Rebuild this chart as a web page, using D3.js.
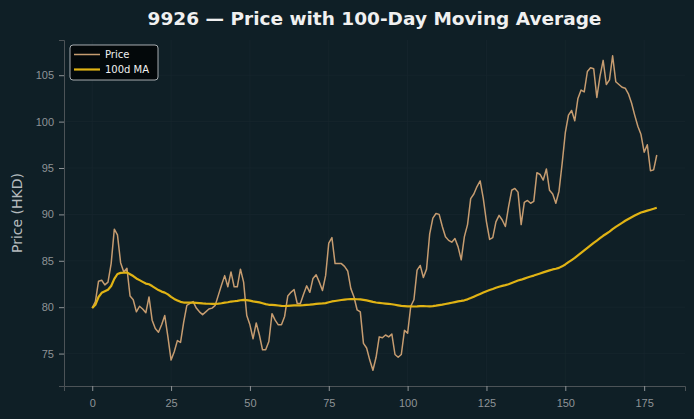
<!DOCTYPE html>
<html>
<head>
<meta charset="utf-8">
<script src="https://cdn.jsdelivr.net/npm/d3@7"></script>
<style>
  html, body { margin: 0; padding: 0; background: #0f1f26; }
  svg { display: block; font-family: "DejaVu Sans", sans-serif; }
</style>
</head>
<body>
<svg id="chart" width="694" height="419"></svg>
<script>
// closing prices, day 0..179
const price = [
  79.9, 80.6, 82.8, 82.9, 82.4, 82.7, 84.7, 88.4, 87.8, 84.8,
  83.8, 84.2, 81.2, 80.8, 79.5, 80.1, 79.8, 79.4, 81.1, 78.6,
  77.7, 77.3, 78.1, 79.1, 76.8, 74.3, 75.2, 76.4, 76.2, 78.4,
  80.2, 80.4, 80.6, 79.9, 79.5, 79.2, 79.5, 79.8, 79.9, 80.2,
  81.3, 82.4, 83.4, 82.2, 83.8, 82.2, 82.2, 84.1, 82.7, 79.1,
  78.1, 76.6, 78.3, 77.0, 75.4, 75.4, 76.3, 79.3, 78.6, 78.1,
  78.1, 79.0, 81.2, 81.6, 81.9, 80.4, 80.4, 81.4, 82.3, 81.6,
  83.1, 83.5, 82.7, 81.8, 83.4, 86.9, 87.5, 84.7, 84.7, 84.7,
  84.4, 83.9, 82.0, 81.1, 79.7, 79.5, 76.1, 75.6, 74.3, 73.2,
  74.6, 76.8, 76.7, 77.0, 76.8, 77.1, 74.9, 74.6, 74.9, 77.5,
  77.2, 80.1, 80.8, 84.0, 84.5, 83.2, 84.1, 87.9, 89.6, 90.1,
  90.0, 88.7, 87.6, 87.2, 87.0, 87.4, 86.5, 85.1, 87.6, 88.9,
  91.7, 92.2, 93.0, 93.6, 91.7, 89.2, 87.3, 87.5, 89.2, 89.9,
  89.4, 88.7, 90.8, 92.6, 92.8, 92.4, 88.9, 91.3, 91.5, 91.2,
  91.4, 94.5, 94.3, 93.7, 94.9, 92.6, 92.2, 91.2, 92.5, 95.5,
  98.8, 100.7, 101.2, 100.1, 102.5, 103.4, 103.2, 105.4, 105.8, 105.7,
  102.6, 104.9, 106.6, 104.0, 104.5, 107.1, 104.3, 104.0, 103.7, 103.6,
  103.0, 102.0, 100.7, 99.5, 98.6, 96.7, 97.5, 94.7, 94.8, 96.4
];
const days = price.map((d, i) => i);
const maWindow = 100;
const xTicks = [0, 25, 50, 75, 100, 125, 150, 175];
const yTicks = [75, 80, 85, 90, 95, 100, 105];
const seriesNames = ["Price", "100d MA"];

// rolling mean, min_periods = 1
const ma = price.map((d, i) => d3.mean(price.slice(Math.max(0, i - maWindow + 1), i + 1)));

const width = 694, height = 419;
const margin = { top: 40, right: 9, bottom: 33, left: 64 };
const colors = { price: "#c69c70", ma: "#e0b314", text: "#8e9396", spine: "#4c5357", grid: "#17262d" };

const svg = d3.select("#chart");

// matplotlib-ish 5% padding on both axes
const xPad = (d3.max(days) - d3.min(days)) * 0.05;
const yExt = d3.extent(price);
const yPad = (yExt[1] - yExt[0]) * 0.05;

const x = d3.scaleLinear()
    .domain([d3.min(days) - xPad, d3.max(days) + xPad])
    .range([margin.left, width - margin.right]);
const y = d3.scaleLinear()
    .domain([yExt[0] - yPad, yExt[1] + yPad])
    .range([height - margin.bottom, margin.top]);

// grid
svg.append("g").selectAll("line").data(xTicks).enter().append("line")
    .attr("x1", d => x(d)).attr("x2", d => x(d))
    .attr("y1", margin.top).attr("y2", height - margin.bottom)
    .attr("stroke", colors.grid).attr("stroke-width", 0.8);
svg.append("g").selectAll("line").data(yTicks).enter().append("line")
    .attr("y1", d => y(d)).attr("y2", d => y(d))
    .attr("x1", margin.left).attr("x2", width - margin.right)
    .attr("stroke", colors.grid).attr("stroke-width", 0.8);

// axes
const xAxis = svg.append("g")
    .attr("transform", `translate(0,${height - margin.bottom})`)
    .call(d3.axisBottom(x).tickValues(xTicks).tickSize(5).tickPadding(8));
const yAxis = svg.append("g")
    .attr("transform", `translate(${margin.left},0)`)
    .call(d3.axisLeft(y).tickValues(yTicks).tickSize(5).tickPadding(5));

[xAxis, yAxis].forEach(a => {
    a.select(".domain").attr("stroke", colors.spine);
    a.selectAll(".tick line").attr("stroke", colors.text);
    a.selectAll(".tick text").attr("fill", colors.text).style("font-size", "11px");
});

// lines
const line = d3.line().x((d, i) => x(days[i])).y(d => y(d));
svg.append("path").datum(price)
    .attr("d", line).attr("fill", "none")
    .attr("stroke", colors.price).attr("stroke-width", 1.5)
    .attr("stroke-linejoin", "round");
svg.append("path").datum(ma)
    .attr("d", line).attr("fill", "none")
    .attr("stroke", colors.ma).attr("stroke-width", 2.2)
    .attr("stroke-linejoin", "round");

// title + y label
svg.append("text")
    .attr("x", (margin.left + width - margin.right) / 2).attr("y", 24.5)
    .attr("text-anchor", "middle").attr("fill", "#f0f0f0")
    .style("font-size", "18.5px").style("font-weight", "bold")
    .text("9926 — Price with 100-Day Moving Average");
svg.append("text")
    .attr("transform", `translate(22,${(margin.top + height - margin.bottom) / 2}) rotate(-90)`)
    .attr("text-anchor", "middle").attr("fill", "#b5bbbe")
    .style("font-size", "14px")
    .text("Price (HKD)");

// legend
const legend = svg.append("g").attr("transform", "translate(70,45)");
legend.append("rect")
    .attr("width", 88).attr("height", 35).attr("rx", 3)
    .attr("fill", "#03080a").attr("stroke", "#cfd3d5").attr("stroke-width", 0.8);
legend.selectAll("g.item").data(seriesNames).enter().append("g")
    .attr("class", "item")
    .attr("transform", (d, i) => `translate(0,${9.5 + i * 15})`)
    .each(function (d, i) {
        const g = d3.select(this);
        g.append("line").attr("x1", 4).attr("x2", 30)
            .attr("stroke", i === 0 ? colors.price : colors.ma)
            .attr("stroke-width", i === 0 ? 1.5 : 2.2);
        g.append("text").attr("x", 35).attr("y", 3.5)
            .attr("fill", "#f0f0f0").style("font-size", "10px").text(d);
    });
</script>
</body>
</html>
